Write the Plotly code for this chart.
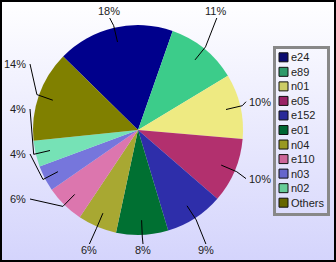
import numpy as np
import plotly.graph_objects as go

# ---------------- data ----------------
categories = ["e24", "e89", "n01", "e05", "e152", "e01", "n04", "e110", "n03", "n02", "Others"]
shares = [18, 11, 10, 10, 9, 8, 6, 6, 4, 4, 14]

# ---------------- styles ----------------
slice_colors = ["#00008c", "#3ccc8a", "#eeea82", "#b2306e", "#2e2eaa", "#007032",
                "#a8a832", "#dc76ae", "#7676dc", "#76e2b6", "#808000"]
legend_colors = ["#0a0a70", "#2e9a6a", "#cccc66", "#992266", "#2a2a99", "#006633",
                 "#999922", "#cc6699", "#6666cc", "#66cc99", "#666600"]
FONT = "Liberation Sans, Arial, sans-serif"
W, H = 336, 262
CX, CY, R = 138, 130, 105
START = -45.5

fig = go.Figure()

# background gradient on a pixel-coordinate axis pair
fig.add_trace(go.Scatter(
    x=[0, W, W, 0, 0], y=[0, 0, H, H, 0], mode="lines", fill="toself",
    line=dict(width=0), hoverinfo="skip", showlegend=False,
    fillgradient=dict(type="vertical", colorscale=[[0, "#ffffff"], [1, "#d4d4fc"]],
                      start=0, stop=H),
))

# pie
fig.add_trace(go.Pie(
    labels=categories, values=shares, sort=False, direction="clockwise",
    rotation=START, textinfo="none", showlegend=False,
    marker=dict(colors=slice_colors, line=dict(width=0)),
    domain=dict(x=[(CX - R) / W, (CX + R) / W], y=[(H - CY - R) / H, (H - CY + R) / H]),
))

# label placement computed from slice angles
vals = np.array(shares, dtype=float)
cum = np.concatenate([[0], np.cumsum(vals)[:-1]])
mids = START + (cum + vals / 2) / vals.sum() * 360

items = []
for i, m in enumerate(mids):
    t = np.radians(m)
    s, c = np.sin(t), np.cos(t)
    if abs(c) > 0.75:
        kind = "top" if c > 0 else "bottom"
        ax = CX + 125 * s
        ay = CY - 112 if c > 0 else CY + 114
    else:
        kind = "right" if s > 0 else "left"
        ax = CX + 108 if s > 0 else CX - 108
        ay = CY - 125 * c
    items.append(dict(i=i, t=t, kind=kind, ax=ax, ay=ay))

for side in ("left", "right"):
    grp = sorted([it for it in items if it["kind"] == side], key=lambda d: -d["ay"])
    prev = CY + 114
    for it in grp:
        it["ay"] = min(it["ay"], prev - 45)
        prev = it["ay"]

shapes = []
annotations = []
for it in items:
    t = it["t"]
    a = (CX + 0.86 * R * np.sin(t), CY - 0.86 * R * np.cos(t))
    b = (CX + 1.02 * R * np.sin(t), CY - 1.02 * R * np.cos(t))
    cpt = (it["ax"], it["ay"])
    shapes.append(dict(type="path", xref="x", yref="y", layer="above",
                       path=f"M{a[0]:.1f},{a[1]:.1f} L{b[0]:.1f},{b[1]:.1f} L{cpt[0]:.1f},{cpt[1]:.1f}",
                       line=dict(color="#000000", width=1)))
    txt = f"{shares[it['i']]}%"
    k = it["kind"]
    if k == "top":
        x, y, xa = cpt[0] - 1, cpt[1] - 7, "center"
    elif k == "bottom":
        x, y, xa = cpt[0], cpt[1] + 6, "center"
    elif k == "left":
        x, y, xa = cpt[0] - 2, cpt[1], "right"
    else:
        x, y, xa = cpt[0] + 1, cpt[1], "left"
    annotations.append(dict(x=x, y=y, xref="x", yref="y", text=txt, showarrow=False,
                            xanchor=xa, yanchor="middle",
                            font=dict(family=FONT, size=11, color="#222222")))

# legend drawn on the pixel axes
n = len(categories)
leg_y = [57.3 + 14.54 * i for i in range(n)]
fig.add_trace(go.Scatter(
    x=[283.5] * n, y=leg_y, mode="markers", hoverinfo="skip", showlegend=False,
    marker=dict(symbol="square", size=9, color=legend_colors,
                line=dict(color="#111111", width=1)),
))
for name, yy in zip(categories, leg_y):
    annotations.append(dict(x=289, y=yy, xref="x", yref="y", text=name, showarrow=False,
                            xanchor="left", yanchor="middle",
                            font=dict(family=FONT, size=11, color="#222222")))

shapes.append(dict(type="rect", xref="x", yref="y", x0=274.5, x1=328.5, y0=47.5, y1=214.5,
                   line=dict(color="#888888", width=3), layer="above"))
shapes.append(dict(type="rect", xref="paper", yref="paper", x0=0, x1=1, y0=0, y1=1,
                   line=dict(color="#000000", width=4), layer="above"))

fig.update_layout(
    width=W, height=H, margin=dict(l=0, r=0, t=0, b=0),
    paper_bgcolor="#ececfd", plot_bgcolor="rgba(0,0,0,0)",
    xaxis=dict(range=[0, W], visible=False, fixedrange=True, domain=[0, 1]),
    yaxis=dict(range=[H, 0], visible=False, fixedrange=True, domain=[0, 1]),
    shapes=shapes, annotations=annotations, showlegend=False,
)

fig.write_html("out.html")
